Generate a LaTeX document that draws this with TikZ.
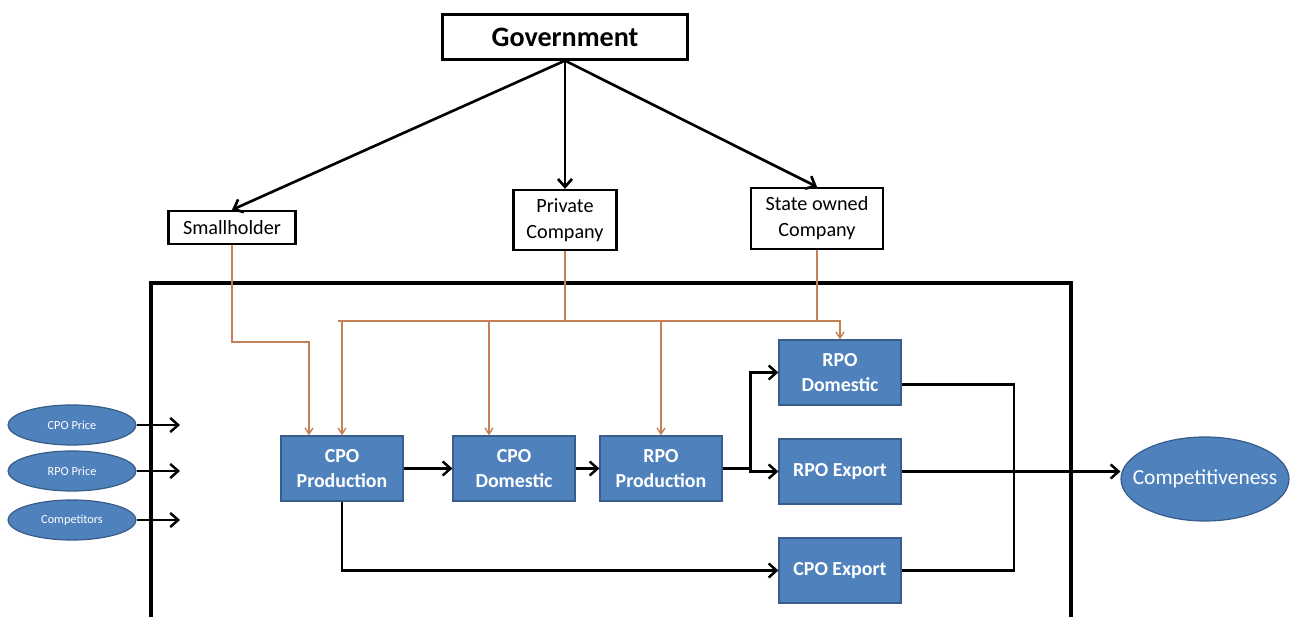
\documentclass[tikz,border=0pt]{standalone}
\usepackage{fontspec}
\setmainfont{Carlito}
\usetikzlibrary{shapes.geometric,arrows.meta}
\definecolor{boxblue}{RGB}{79,129,189}
\definecolor{boxedge}{RGB}{56,93,138}
\definecolor{linkbrown}{RGB}{196,128,86}

\begin{document}
\begin{tikzpicture}[x=0.02cm, y=-0.02cm,
    actor/.style={draw, line width=1.3pt, align=center, inner sep=0pt,
      font=\fontsize{11.5}{14.7}\selectfont},
    stage/.style={draw=boxedge, fill=boxblue, text=white, line width=0.7pt,
      align=center, minimum width=2.44cm, minimum height=1.3cm, inner sep=0pt,
      font=\bfseries\fontsize{11.3}{14.7}\selectfont},
    factor/.style={ellipse, draw=boxedge, fill=boxblue, text=white, line width=0.7pt,
      minimum width=2.56cm, minimum height=0.8cm, inner xsep=-0.2cm, inner ysep=0pt,
      font=\fontsize{7}{8}\selectfont},
    flow/.style={-{Straight Barb[length=4.5pt,width=8pt]}, line width=1.4pt},
    policy/.style={-{Straight Barb[length=3.5pt,width=4.5pt]}, draw=linkbrown, line width=0.8pt}]
    \useasboundingbox (0,0) rectangle (1292,617);
    \clip (0,0) rectangle (1292,617);

    % frame
    \draw[line width=2pt] (151,650) |- (1071,283) -- (1071,650);

    % actors
    \node[actor, minimum width=4.9cm, minimum height=0.9cm,
      font=\bfseries\fontsize{16}{18}\selectfont] (gov) at (565,37) {Government};
    \node[actor, minimum width=2.54cm, minimum height=0.66cm] (small) at (232,227.5) {Smallholder};
    \node[actor, minimum width=2.06cm, minimum height=1.2cm] (priv) at (565,220) {Private\\Company};
    \node[actor, minimum width=2.64cm, minimum height=1.22cm] (state) at (817,218.5) {State owned\\Company};

    \draw[flow, line width=1.5pt] (gov.south) -- (small.north);
    \draw[flow, line width=1.5pt] (gov.south) -- (priv.north);
    \draw[flow, line width=1.5pt] (gov.south) -- (state.north);

    % chain
    \node[stage] (cpoprod) at (342,468.5) {CPO\\Production};
    \node[stage] (cpodom) at (514,468.5) {CPO\\Domestic};
    \node[stage] (rpoprod) at (661,468.5) {RPO\\Production};
    \node[stage] (rpodom) at (840,372.5) {RPO\\Domestic};
    \node[stage] (rpoexp) at (840,471.5) {RPO Export};
    \node[stage] (cpoexp) at (840,570.5) {CPO Export};

    \node[ellipse, draw=boxedge, fill=boxblue, text=white, line width=0.7pt,
      minimum width=3.36cm, minimum height=1.68cm, inner xsep=-0.3cm, inner ysep=0pt,
      font=\fontsize{12.2}{14}\selectfont] (comp) at (1205,479) {Competitiveness};

    % outside factors
    \node[factor] (cpoprice) at (72,425) {CPO Price};
    \node[factor] (rpoprice) at (72,471) {RPO Price};
    \node[factor] (rivals) at (72,520) {Competitors};
    \coordinate (in1) at (180,425);
    \coordinate (in2) at (180,471);
    \coordinate (in3) at (180,520);
    \draw[flow] (cpoprice.east) -- (in1);
    \draw[flow] (rpoprice.east) -- (in2);
    \draw[flow] (rivals.east) -- (in3);

    \draw[flow] (cpoprod) -- (cpodom);
    \draw[flow] (cpodom) -- (rpoprod);
    \draw[flow] (rpoprod.east) -- ++(28,0) coordinate (split) |- (rpodom.west);
    \draw[flow] (split) |- (rpoexp.west);
    \draw[flow] (cpoprod.south) |- (cpoexp.west);

    \coordinate (merge) at (1014,471.5);
    \draw[line width=1.4pt] ([yshift=-0.24cm]rpodom.east) -| (merge) |- (cpoexp.east);
    \draw[line width=1.4pt] (rpoexp.east) -- (merge);
    \draw[flow] (merge) -- (comp.west |- merge);

    % policy links
    \coordinate (busL) at (338,321);
    \coordinate (busR) at (841,321);
    \draw[linkbrown, line width=0.8pt] (busL) -- (busR);
    \draw[linkbrown, line width=0.8pt] (priv.south) -- (priv.south |- busL);
    \draw[linkbrown, line width=0.8pt] (state.south) -- (state.south |- busL);
    \draw[policy] (small.south) -- ++(0,97) -| ([xshift=-0.66cm]cpoprod.north);
    \draw[policy] (cpoprod.north |- busL) -- (cpoprod.north);
    \draw[policy] ([xshift=-0.5cm]cpodom.north |- busL) -- ([xshift=-0.5cm]cpodom.north);
    \draw[policy] (rpoprod.north |- busL) -- (rpoprod.north);
    \draw[policy] (rpodom.north |- busL) -- (rpodom.north);
\end{tikzpicture}
\end{document}
